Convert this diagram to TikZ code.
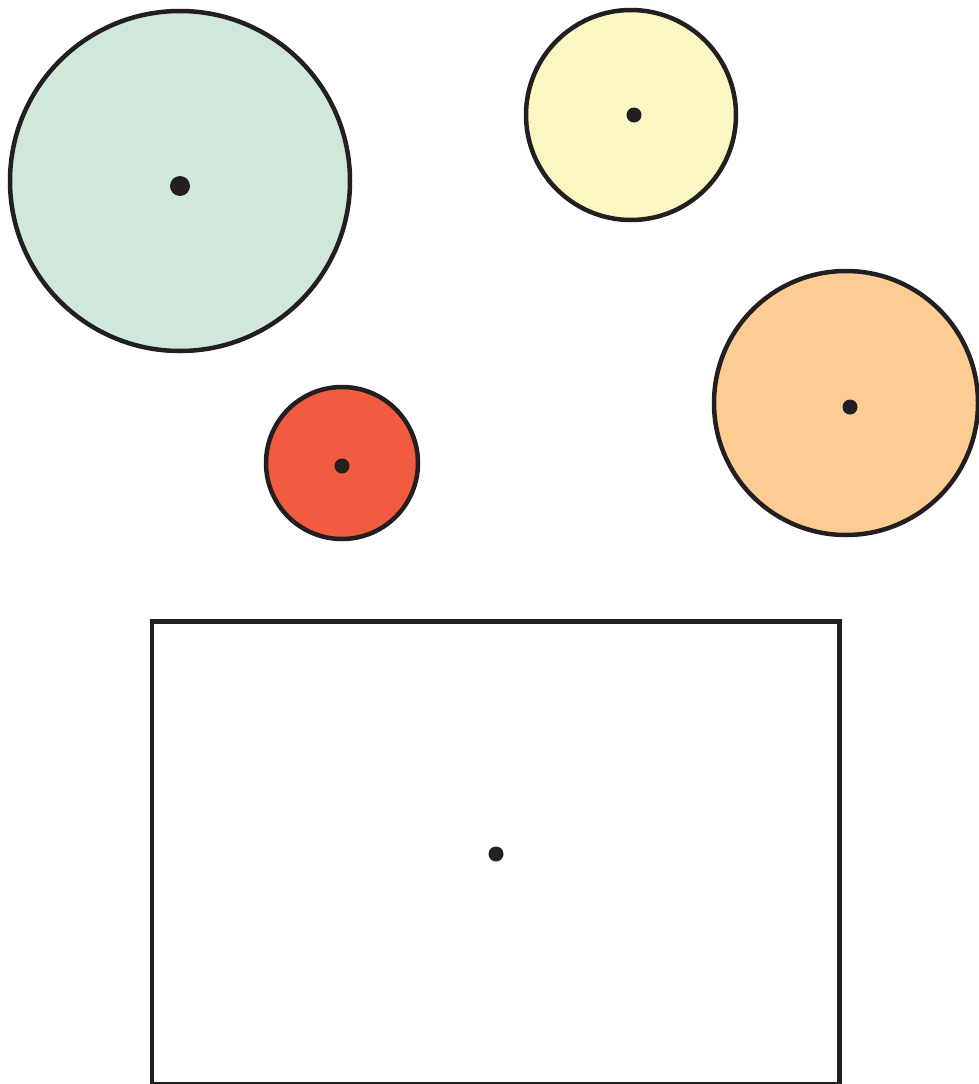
\documentclass[tikz,border=0pt]{standalone}
\begin{document}
\begin{tikzpicture}[x=1pt,y=-1pt,
  outline/.style={draw=ink,line width=4.5pt},
  centre/.style={circle,fill=ink,inner sep=0pt,minimum size=#1}]
\definecolor{ink}{HTML}{231F20}
\definecolor{cgreen}{HTML}{D0E8DA}
\definecolor{cyellow}{HTML}{FBF7C2}
\definecolor{corange}{HTML}{FCCC93}
\definecolor{cred}{HTML}{F15C40}
\useasboundingbox (0,0) rectangle (979,1084);
\filldraw[outline,fill=cgreen] (180,181) circle[radius=170];
\filldraw[outline,fill=cyellow] (631,115) circle[radius=105];
\filldraw[outline,fill=corange] (846,403) circle[radius=132];
\filldraw[outline,fill=cred] (342,463) circle[radius=76];
\draw[outline] (152,621.5) rectangle (839.5,1084.5);
\node[centre=20pt] (g) at (180,186) {};
\node[centre=15pt] (y) at (634,115) {};
\node[centre=15pt] (o) at (850,407) {};
\node[centre=15pt] (r) at (342,466) {};
\node[centre=15pt] (b) at (496,854) {};
\end{tikzpicture}
\end{document}
